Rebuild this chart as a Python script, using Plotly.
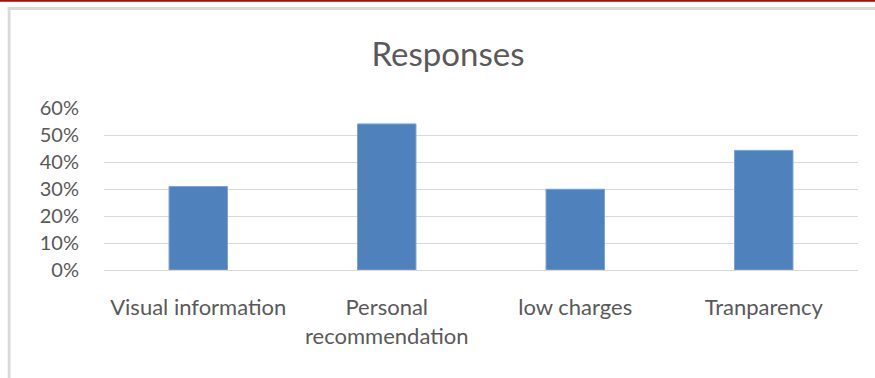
import plotly.graph_objects as go

# Survey responses per factor (share of respondents)
categories = ["Visual information", "Personal<br>recommendation", "low charges", "Tranparency"]
responses = [0.309, 0.541, 0.299, 0.443]
tick_values = [0, 0.1, 0.2, 0.3, 0.4, 0.5, 0.6]
tick_labels = ["0%", "10%", "20%", "30%", "40%", "50%", "60%"]

W, H = 875, 378
# plot area in pixels
x0, x1 = 103.75, 857.6
y_top, y_bot = 108.3, 270.0

FONT = "Lato"
TEXT = "#595959"

fig = go.Figure()
fig.add_trace(go.Bar(
    x=categories,
    y=responses,
    width=0.31,
    marker=dict(color="#4f81bd", line=dict(color="#7ea2d2", width=1)),
    hoverinfo="x+y",
))

def px_x(p):
    return (p - x0) / (x1 - x0)

def px_y(p):
    return (y_bot - p) / (y_bot - y_top)

shapes = [
    # red strip along the top edge of the page
    dict(type="rect", xref="paper", yref="paper",
         x0=px_x(-5), x1=px_x(W + 5), y0=px_y(2.3), y1=px_y(-5),
         fillcolor="#c00000", line=dict(width=0), layer="above"),
    # chart frame: top and left edges
    dict(type="rect", xref="paper", yref="paper",
         x0=px_x(7.5), x1=px_x(W + 5), y0=px_y(10.5), y1=px_y(7.5),
         fillcolor="#d9d9d9", line=dict(width=0), layer="above"),
    dict(type="rect", xref="paper", yref="paper",
         x0=px_x(7.5), x1=px_x(10.3), y0=px_y(H + 5), y1=px_y(7.5),
         fillcolor="#d9d9d9", line=dict(width=0), layer="above"),
]

fig.update_layout(
    width=W, height=H,
    margin=dict(l=x0, r=W - x1, t=y_top, b=H - y_bot, autoexpand=False),
    paper_bgcolor="white",
    plot_bgcolor="white",
    showlegend=False,
    bargap=0.69,
    title=dict(
        text="Responses",
        font=dict(family=FONT, size=33, color=TEXT),
        x=448 / W, xanchor="center", xref="container",
        y=1 - 54 / H, yanchor="middle", yref="container",
    ),
    xaxis=dict(
        showgrid=False,
        showline=False,
        ticks="",
        ticklabelstandoff=22,
        tickfont=dict(family=FONT, size=22, color=TEXT),
        fixedrange=True,
    ),
    yaxis=dict(
        range=[0, 0.6],
        tickvals=tick_values,
        ticktext=tick_labels,
        showgrid=True,
        gridcolor="#d9d9d9",
        gridwidth=1.3,
        zeroline=True,
        zerolinecolor="#d9d9d9",
        zerolinewidth=1.3,
        showline=False,
        ticks="",
        ticklabelstandoff=24,
        tickfont=dict(family=FONT, size=20, color=TEXT),
        fixedrange=True,
    ),
    shapes=shapes,
)

fig.write_html("out.html")
